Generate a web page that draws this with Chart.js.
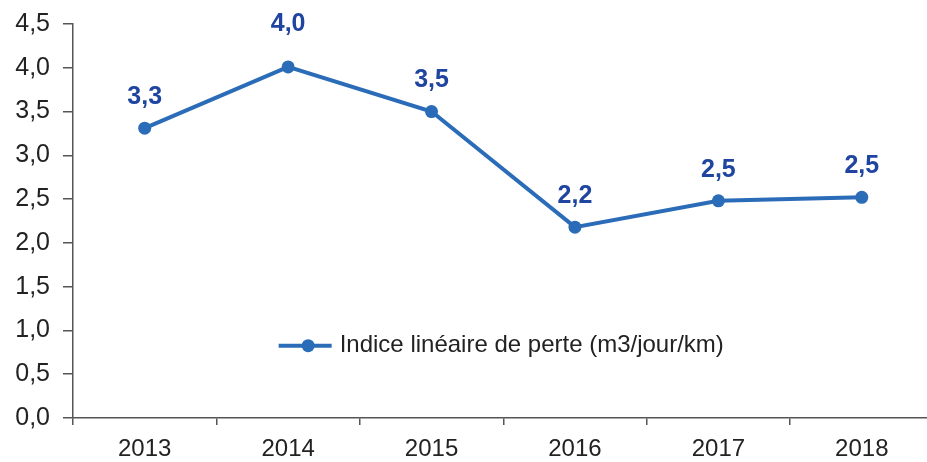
<!DOCTYPE html>
<html>
<head>
<meta charset="utf-8">
<script src="https://cdn.jsdelivr.net/npm/chart.js@4/dist/chart.umd.min.js"></script>
<style>
  html, body { margin: 0; padding: 0; background: #fff; overflow: hidden; }
  #wrap { width: 940px; height: 462px; position: relative; }
</style>
</head>
<body>
<div id="wrap"><canvas id="c"></canvas></div>
<script>
const categories = ["2013", "2014", "2015", "2016", "2017", "2018"];
const seriesLabel = "Indice linéaire de perte (m3/jour/km)";
const seriesValues = [3.31, 4.01, 3.50, 2.18, 2.48, 2.52];
const yTicks = [0, 0.5, 1, 1.5, 2, 2.5, 3, 3.5, 4, 4.5];

const lineColor = "#2b6cb8";
const labelColor = "#1f45a0";
const fmt = v => v.toFixed(1).replace(".", ",");
// vertical lift of each value label above its point (styling only)
const labelLift = [31, 43, 31, 31, 31, 31];

const dataLabels = {
  id: "dataLabels",
  afterDatasetsDraw(chart) {
    const ctx = chart.ctx;
    const meta = chart.getDatasetMeta(0);
    ctx.save();
    ctx.font = "bold 25px 'Liberation Sans', Arial, sans-serif";
    ctx.fillStyle = labelColor;
    ctx.textAlign = "center";
    ctx.textBaseline = "middle";
    meta.data.forEach((pt, i) => {
      ctx.fillText(fmt(chart.data.datasets[0].data[i]), pt.x, pt.y - labelLift[i]);
    });
    ctx.restore();
  }
};

const innerLegend = {
  id: "innerLegend",
  afterDraw(chart) {
    const ctx = chart.ctx;
    const ca = chart.chartArea;
    const ds = chart.data.datasets[0];
    ctx.save();
    ctx.font = "24px 'Liberation Sans', Arial, sans-serif";
    const tw = ctx.measureText(ds.label).width;
    const lineW = 53, gap = 8;
    const total = lineW + gap + tw;
    const cx = (ca.left + ca.right) / 2 - 2;
    const x0 = cx - total / 2;
    const y = ca.top + (ca.bottom - ca.top) * 0.8165;
    ctx.strokeStyle = lineColor;
    ctx.lineWidth = 4;
    ctx.beginPath();
    ctx.moveTo(x0, y);
    ctx.lineTo(x0 + lineW, y);
    ctx.stroke();
    ctx.fillStyle = lineColor;
    ctx.beginPath();
    ctx.arc(x0 + lineW / 2 + 3, y, 6.5, 0, Math.PI * 2);
    ctx.fill();
    ctx.fillStyle = "#222";
    ctx.textAlign = "left";
    ctx.textBaseline = "middle";
    ctx.fillText(ds.label, x0 + lineW + gap, y);
    ctx.restore();
  }
};

new Chart(document.getElementById("c"), {
  type: "line",
  data: {
    labels: categories,
    datasets: [{
      label: seriesLabel,
      data: seriesValues,
      borderColor: lineColor,
      backgroundColor: lineColor,
      borderWidth: 4,
      pointRadius: 6.5,
      pointHoverRadius: 6.5,
      pointBackgroundColor: lineColor,
      pointBorderWidth: 0,
      tension: 0,
      clip: false
    }]
  },
  options: {
    responsive: true,
    maintainAspectRatio: false,
    animation: false,
    events: [],
    layout: { padding: { top: 24, right: 0, left: 0, bottom: 0 } },
    plugins: {
      legend: { display: false },
      tooltip: { enabled: false },
      title: { display: false }
    },
    scales: {
      x: {
        type: "category",
        offset: true,
        grid: { offset: true, drawOnChartArea: false, tickLength: 7, color: "#555", lineWidth: 1.5 },
        border: { color: "#555", width: 1.5 },
        ticks: {
          color: "#222",
          font: { family: "'Liberation Sans', Arial, sans-serif", size: 24 },
          padding: 10,
          maxRotation: 0
        },
        afterFit(scale) { scale.height = 44; scale.paddingLeft = 0; scale.paddingRight = 0; }
      },
      y: {
        min: 0,
        max: 4.5,
        afterBuildTicks(scale) { scale.ticks = yTicks.map(v => ({ value: v })); },
        grid: { drawOnChartArea: false, tickLength: 10, color: "#555", lineWidth: 1.5 },
        border: { color: "#555", width: 1.5 },
        ticks: {
          color: "#222",
          font: { family: "'Liberation Sans', Arial, sans-serif", size: 25 },
          padding: 13,
          callback: v => fmt(v)
        },
        afterFit(scale) { scale.width = 73; scale.paddingTop = 0; scale.paddingBottom = 0; }
      }
    }
  },
  plugins: [dataLabels, innerLegend]
});
</script>
</body>
</html>
